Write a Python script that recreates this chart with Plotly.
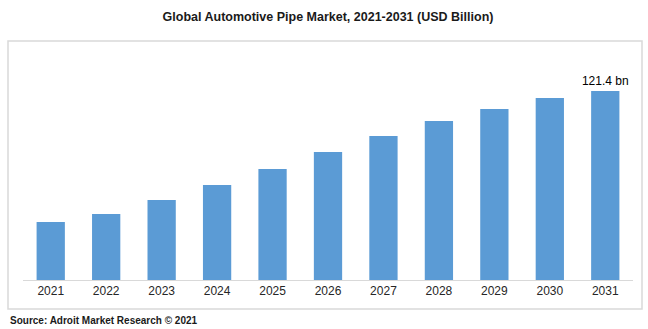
import plotly.graph_objects as go

years = ["2021", "2022", "2023", "2024", "2025", "2026", "2027", "2028", "2029", "2030", "2031"]
values = [37.3, 42.4, 51.4, 61.0, 71.3, 82.2, 92.5, 102.1, 109.8, 116.9, 121.4]
last_label = "121.4 bn"

labels = [""] * (len(values) - 1) + [last_label]

fig = go.Figure()
fig.add_trace(go.Bar(x=years, y=values, marker=dict(color="#5b9bd5", line=dict(width=0)),
                     text=labels, textposition="outside", cliponaxis=False,
                     constraintext="none",
                     textfont=dict(size=12, color="#000000"),
                     hoverinfo="x+y"))

fig.update_layout(
    width=648, height=329,
    margin=dict(l=23, r=15, t=60, b=49),
    paper_bgcolor="white", plot_bgcolor="white",
    bargap=0.49,
    showlegend=False,
    font=dict(family="Liberation Sans, Arial, sans-serif", size=12, color="#262626"),
    title=dict(text="<b>Global Automotive Pipe Market, 2021-2031 (USD Billion)</b>",
               x=0.5, xref="paper", xanchor="center", y=1 - 17/329, yanchor="middle",
               font=dict(size=12.5, color="#1a1a1a")),
    xaxis=dict(type="category", showgrid=False, showline=True, linecolor="#d9d9d9", linewidth=1,
               ticks="", tickfont=dict(size=12, color="#262626"), fixedrange=True),
    yaxis=dict(range=[0, 141.3], visible=False, showgrid=False, fixedrange=True),
    shapes=[dict(type="rect", xref="paper", yref="paper",
                 x0=(8 - 23) / 610, x1=(642 - 23) / 610,
                 y0=(280 - 309) / 220, y1=(280 - 41) / 220,
                 line=dict(color="#d9d9d9", width=1.5), fillcolor="rgba(0,0,0,0)", layer="below")],
    annotations=[
        dict(x=(8 - 23) / 610, y=(280 - 320) / 220, xref="paper", yref="paper",
             text="<b>Source: Adroit Market Research © 2021</b>", showarrow=False,
             xanchor="left", yanchor="middle", font=dict(size=10, color="#1a1a1a")),
    ],
)

fig.write_html("out.html")
